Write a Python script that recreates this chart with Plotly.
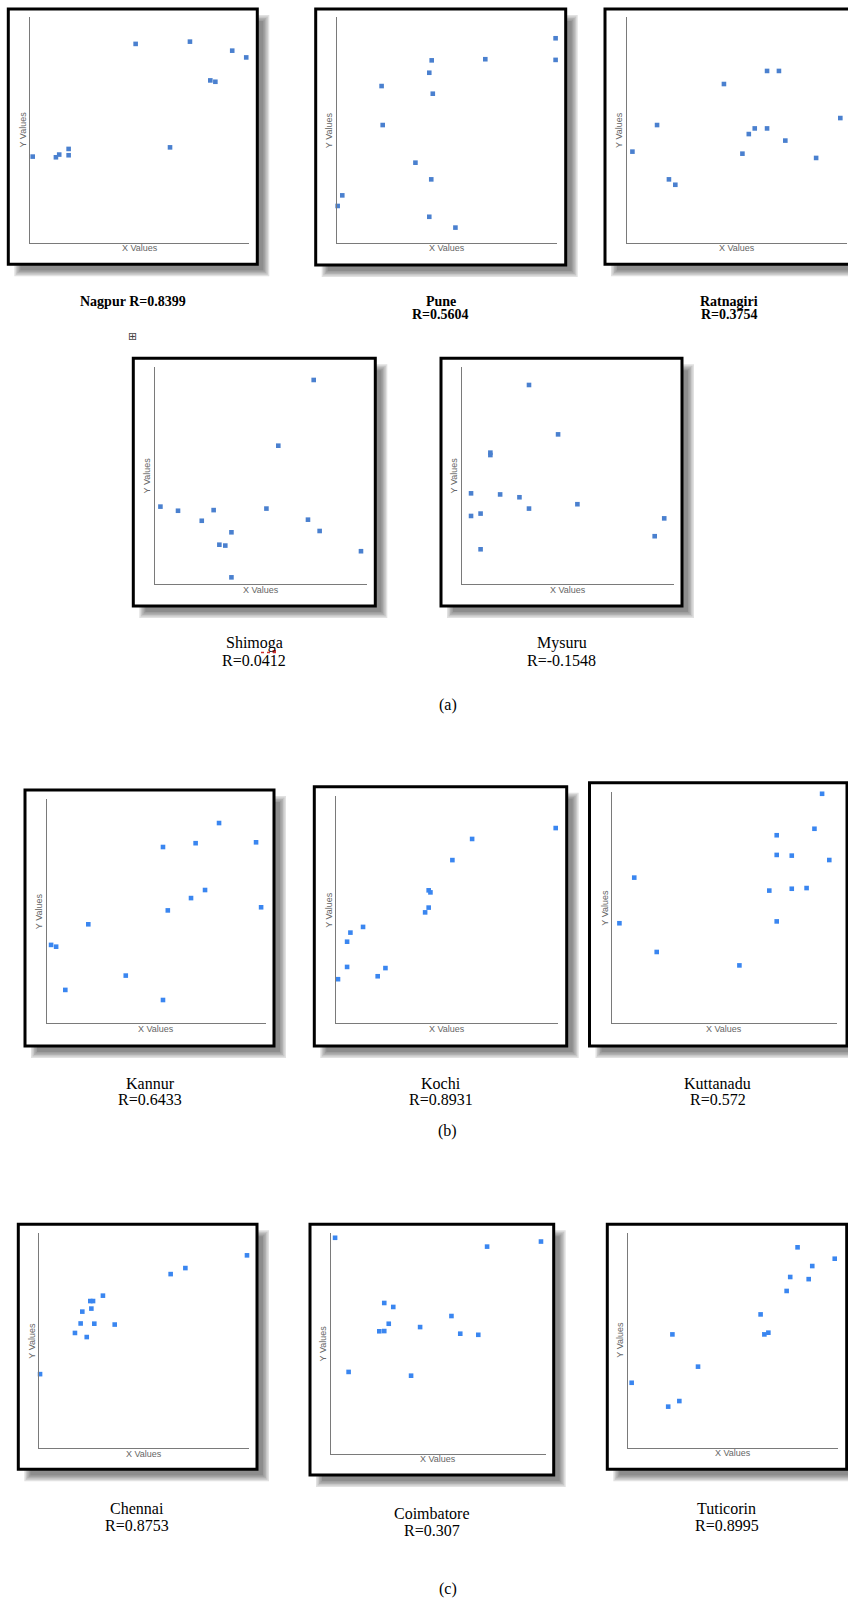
import plotly.graph_objects as go

W, H = 848, 1602

# ---------------- data (unitless values, 0-100 scale) -------------
cities = ["Nagpur", "Pune", "Ratnagiri", "Shimoga", "Mysuru", "Kannur",
          "Kochi", "Kuttanadu", "Chennai", "Coimbatore", "Tuticorin"]
r_values = ["0.8399", "0.5604", "0.3754", "0.0412", "-0.1548", "0.6433",
            "0.8931", "0.572", "0.8753", "0.307", "0.8995"]
group_labels = ["(a)", "(b)", "(c)"]

nagpur_x = [1.1, 11.7, 13.2, 17.5, 17.5, 48.1, 63.8, 72.9, 82.2, 84.5, 92.2, 98.6]
nagpur_y = [38.2, 37.9, 39.1, 41.6, 38.8, 88.2, 42.3, 89.2, 72.0, 71.4, 85.2, 82.2]

pune_x = [0.3, 2.4, 20.3, 20.8, 35.7, 42.0, 43.1, 43.6, 42.9, 42.0, 53.9, 67.5, 99.5, 99.5]
pune_y = [16.3, 21.0, 69.5, 52.2, 35.5, 75.4, 80.9, 66.1, 28.1, 11.5, 6.7, 81.4, 90.7, 81.1]

ratnagiri_x = [2.6, 13.8, 19.2, 22.1, 44.2, 52.6, 55.5, 58.2, 63.8, 63.8, 69.2, 72.1, 86.1, 97.1]
ratnagiri_y = [40.4, 52.2, 28.1, 25.7, 70.4, 39.5, 48.2, 50.7, 76.2, 50.7, 76.2, 45.3, 37.6, 55.3]

shimoga_x = [2.7, 11.0, 22.2, 27.8, 30.5, 33.3, 36.2, 36.2, 52.7, 58.3, 72.3, 75.0, 77.8, 97.3]
shimoga_y = [35.7, 33.8, 29.2, 34.1, 18.2, 17.8, 23.9, 3.2, 34.8, 63.7, 29.7, 93.9, 24.5, 15.2]

mysuru_x = [4.4, 4.4, 8.9, 8.9, 13.5, 13.5, 18.1, 27.2, 31.7, 31.7, 45.4, 54.5, 90.9, 95.4]
mysuru_y = [41.8, 31.4, 32.5, 16.1, 60.5, 59.4, 41.3, 40.0, 91.6, 34.8, 68.9, 36.8, 22.1, 30.3]

kannur_x = [2.0, 4.3, 8.5, 19.0, 36.1, 53.1, 53.1, 55.3, 65.9, 68.0, 72.3, 78.7, 95.6, 97.9]
kannur_y = [35.0, 34.2, 14.9, 44.2, 21.3, 78.7, 10.4, 50.4, 55.9, 80.4, 59.5, 89.4, 80.8, 51.8]

kochi_x = [0.9, 5.0, 5.0, 6.5, 12.2, 18.8, 22.3, 40.2, 41.8, 41.8, 42.6, 52.5, 61.4, 99.1]
kochi_y = [19.4, 24.8, 35.9, 39.9, 42.4, 20.7, 24.3, 48.8, 50.9, 58.5, 57.6, 71.8, 81.1, 85.9]

kuttanadu_x = [3.3, 9.9, 19.9, 56.7, 70.0, 73.3, 73.3, 73.3, 80.0, 80.0, 86.6, 90.1, 93.5, 96.7]
kuttanadu_y = [43.2, 62.9, 30.8, 25.0, 57.3, 81.2, 72.7, 44.0, 72.4, 58.1, 58.4, 84.0, 99.1, 70.5]

chennai_x = [0.5, 17.1, 19.8, 20.6, 22.7, 24.4, 25.7, 24.9, 26.3, 30.4, 36.0, 62.6, 69.6, 98.9]
chennai_y = [34.4, 53.5, 57.9, 63.4, 51.6, 68.3, 68.3, 64.8, 57.8, 70.8, 57.4, 80.8, 83.6, 89.5]

coimbatore_x = [1.9, 8.2, 22.5, 24.8, 26.9, 24.8, 29.0, 37.3, 41.5, 56.1, 60.2, 68.6, 72.7, 97.8]
coimbatore_y = [97.7, 37.0, 55.4, 55.5, 58.8, 68.2, 66.4, 35.3, 57.3, 62.3, 54.3, 53.8, 93.7, 96.0]

tuticorin_x = [1.6, 19.0, 21.0, 24.3, 33.2, 63.0, 64.8, 66.7, 75.4, 77.1, 80.6, 85.9, 87.6, 98.3]
tuticorin_y = [30.2, 19.1, 52.7, 21.7, 37.7, 62.0, 52.7, 53.5, 72.9, 79.4, 93.2, 78.4, 84.5, 87.9]

xs = [nagpur_x, pune_x, ratnagiri_x, shimoga_x, mysuru_x, kannur_x,
      kochi_x, kuttanadu_x, chennai_x, coimbatore_x, tuticorin_x]
ys = [nagpur_y, pune_y, ratnagiri_y, shimoga_y, mysuru_y, kannur_y,
      kochi_y, kuttanadu_y, chennai_y, coimbatore_y, tuticorin_y]

# ---------------- layout (page pixels) ----------------
# axes: (left, right, top, bottom); box: (x0, y0, x1, y1); title: (cx, y_line1, y_line2)
panels = [
    dict(ax=(30.3, 249.3, 17.3, 242.7), box=(8.3, 9, 257.3, 264.3), t=(132.7, 301, None), bold=True),
    dict(ax=(337, 556.7, 17.3, 242.7), box=(315.7, 9, 565.7, 265), t=(440.5, 301, 314.3), bold=True),
    dict(ax=(626.7, 846.7, 17.3, 242.7), box=(605, 9, 856, 264.3), t=(729.3, 301, 314.3), bold=True),
    dict(ax=(154.7, 366.7, 366.7, 584.3), box=(133.3, 358.3, 375.3, 606), t=(254, 643.3, 660), bold=False),
    dict(ax=(461.7, 674, 366.7, 584.3), box=(441, 358.3, 682, 606), t=(561.7, 643.3, 660.5), bold=False),
    dict(ax=(46.7, 265.7, 799.3, 1023.3), box=(25, 790, 274, 1046), t=(150, 1083.3, 1099.3), bold=False),
    dict(ax=(336, 557.7, 796, 1023.3), box=(314.3, 786.7, 566.7, 1046), t=(440.7, 1083.3, 1099.3), bold=False),
    dict(ax=(612, 836.7, 791.7, 1023.3), box=(589.5, 782.7, 847, 1046), t=(717.7, 1083.3, 1099.3), bold=False),
    dict(ax=(39, 249.3, 1232.7, 1448.3), box=(18.3, 1224.3, 257, 1469.3), t=(137.3, 1508.3, 1525), bold=False),
    dict(ax=(331, 545.7, 1232.7, 1453.7), box=(310, 1224.3, 553.7, 1475), t=(431.7, 1513.3, 1530.7), bold=False),
    dict(ax=(628.3, 838.3, 1232.7, 1447.7), box=(607.3, 1224.3, 846.7, 1469.3), t=(726.7, 1508.3, 1525), bold=False),
]
caption_pos = [(447.5, 705), (447.5, 1131), (447.5, 1589)]

def px(x):
    return x / W

def py(y):
    return 1 - y / H

fig = go.Figure()
shapes = []
annotations = []
layout_axes = {}

for i, (city, rv, xv, yv, p) in enumerate(zip(cities, r_values, xs, ys, panels)):
    n = i + 1
    L, R, T, B = p["ax"]
    xa = "xaxis" if n == 1 else f"xaxis{n}"
    ya = "yaxis" if n == 1 else f"yaxis{n}"
    xr = "x" if n == 1 else f"x{n}"
    yr = "y" if n == 1 else f"y{n}"
    color = "#4a80cf" if i < 5 else "#3a86f0"
    fig.add_trace(go.Scatter(
        x=xv, y=yv, mode="markers", xaxis=xr, yaxis=yr,
        marker=dict(symbol="square", size=4.6, color=color, line=dict(width=0)),
        cliponaxis=False, showlegend=False, hoverinfo="skip"))
    common = dict(showgrid=False, zeroline=False, showticklabels=False, ticks="",
                  showline=True, linecolor="#7a7a7a", linewidth=1, range=[0, 100],
                  fixedrange=True)
    layout_axes[xa] = dict(domain=[px(L), px(R)], anchor=yr, **common)
    layout_axes[ya] = dict(domain=[py(B), py(T)], anchor=xr, **common)

    # drop shadow + framed box
    x0, y0, x1, y1 = p["box"]
    off = 9
    for inf in (-3, -1.5, 0, 1.5, 3):
        shapes.append(dict(type="rect", xref="paper", yref="paper", layer="below",
                           x0=px(x0 + off - inf), x1=px(x1 + off + inf),
                           y0=py(y1 + off + inf), y1=py(y0 + off - inf),
                           line=dict(width=0), fillcolor="rgba(40,40,40,0.14)"))
    shapes.append(dict(type="rect", xref="paper", yref="paper", layer="below",
                       x0=px(x0), x1=px(x1), y0=py(y1), y1=py(y0),
                       line=dict(color="black", width=3), fillcolor="white"))

    # axis labels
    annotations.append(dict(xref="paper", yref="paper", x=px((L + R) / 2), y=py(B + 5.5),
                            text="X Values", showarrow=False, xanchor="center", yanchor="middle",
                            font=dict(family="Liberation Sans", size=9, color="#666666")))
    annotations.append(dict(xref="paper", yref="paper", x=px(L - 7.8), y=py((T + B) / 2),
                            text="Y Values", showarrow=False, textangle=-90,
                            xanchor="center", yanchor="middle",
                            font=dict(family="Liberation Sans", size=9, color="#666666")))

    # titles
    cx, t1, t2 = p["t"]
    if p["bold"]:
        tfont = dict(family="Liberation Serif", size=14, color="black")
        if t2 is None:
            lines = [(f"<b>{city} R={rv}</b>", t1)]
        else:
            lines = [(f"<b>{city}</b>", t1), (f"<b>R={rv}</b>", t2)]
    else:
        tfont = dict(family="Liberation Serif", size=16, color="black")
        lines = [(city, t1), (f"R={rv}", t2)]
    for txt, ty in lines:
        annotations.append(dict(xref="paper", yref="paper", x=px(cx), y=py(ty), text=txt,
                                showarrow=False, xanchor="center", yanchor="middle", font=tfont))

# group captions
for lab, (cx, cy) in zip(group_labels, caption_pos):
    annotations.append(dict(xref="paper", yref="paper", x=px(cx), y=py(cy), text=lab,
                            showarrow=False, xanchor="center", yanchor="middle",
                            font=dict(family="Liberation Serif", size=16, color="black")))

# table-move handle icon and the small red edit mark
annotations.append(dict(xref="paper", yref="paper", x=px(132), y=py(336), text="⊞",
                        showarrow=False, xanchor="center", yanchor="middle",
                        font=dict(family="DejaVu Sans", size=11, color="#444444")))
shapes.append(dict(type="line", xref="paper", yref="paper", layer="above",
                   x0=px(261), x1=px(276), y0=py(652.5), y1=py(652.5),
                   line=dict(color="#d03030", width=1.5, dash="dot")))
shapes.append(dict(type="rect", xref="paper", yref="paper", layer="above",
                   x0=px(272.5), x1=px(276), y0=py(653), y1=py(650),
                   line=dict(width=0), fillcolor="#d03030"))

fig.update_layout(
    width=W, height=H, margin=dict(l=0, r=0, t=0, b=0),
    paper_bgcolor="white", plot_bgcolor="rgba(0,0,0,0)",
    shapes=shapes, annotations=annotations, showlegend=False,
    **layout_axes)

fig.write_html("out.html", config={"displayModeBar": False},
               post_script="document.body.style.margin='0px';document.body.style.overflow='hidden';")
